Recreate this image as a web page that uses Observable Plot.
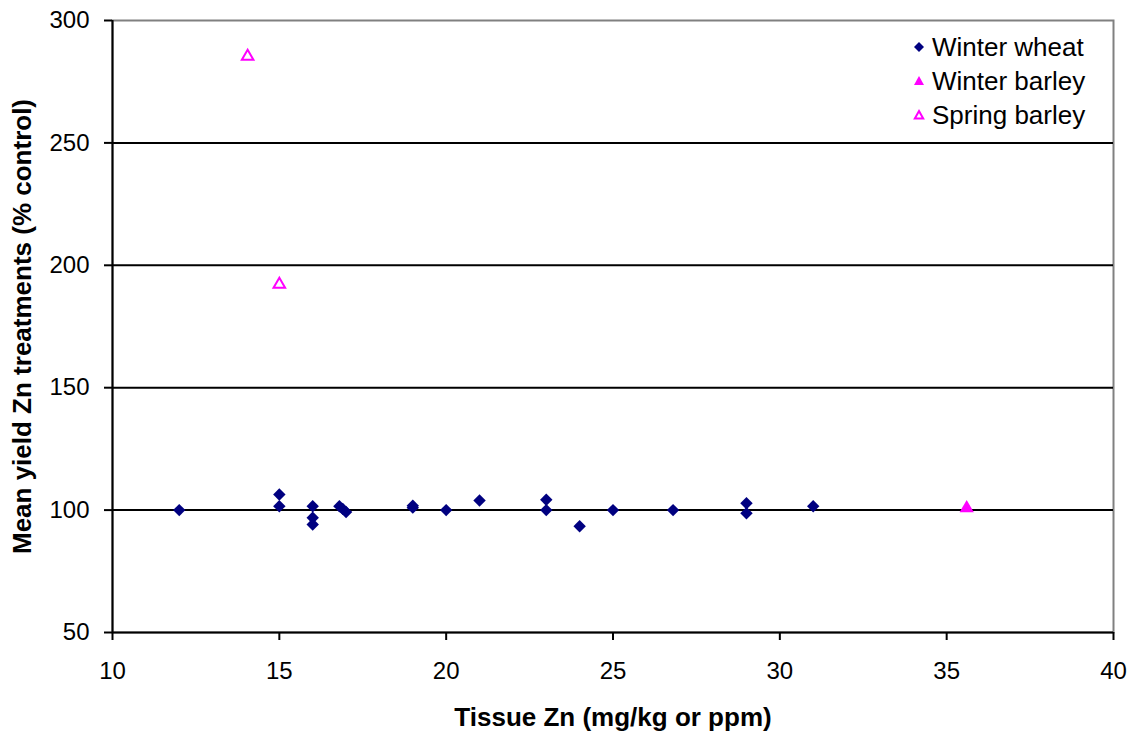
<!DOCTYPE html>
<html>
<head>
<meta charset="utf-8">
<script src="https://cdn.jsdelivr.net/npm/d3@7"></script>
<script src="https://cdn.jsdelivr.net/npm/@observablehq/plot@0.6"></script>
<style>
  html, body { margin: 0; padding: 0; background: #fff; }
  #wrap { position: relative; width: 1133px; height: 732px; font-family: "Liberation Sans", Arial, sans-serif; }
  #legend { position: absolute; left: 910px; top: 30px; font-size: 26px; color: #000; }
  #legend .row { display: flex; align-items: center; height: 34px; }
  #legend svg { width: 18px; height: 18px; margin-right: 4px; }
</style>
</head>
<body>
<div id="wrap"></div>
<script>
// Data
const wheatX = [12, 15, 15, 16, 16, 16, 16.8, 16.9, 17, 19, 19, 20, 21, 23, 23, 24, 25, 26.8, 29, 29, 31];
const wheatY = [100, 106.4, 101.6, 101.6, 96.9, 94.1, 101.6, 100.5, 99.2, 101.8, 101, 100, 103.9, 104.2, 100, 93.4, 100, 100, 102.8, 98.7, 101.6];
const winterBarleyX = [35.6];
const winterBarleyY = [100.8];
const springBarleyX = [14.05, 15.0];
const springBarleyY = [285.3, 192.2];
const seriesNames = ["Winter wheat", "Winter barley", "Spring barley"];
const xTicks = [10, 15, 20, 25, 30, 35, 40];
const yTicks = [50, 100, 150, 200, 250, 300];
const xTitle = "Tissue Zn (mg/kg or ppm)";
const yTitle = "Mean yield Zn treatments (% control)";

const wheat = wheatX.map((x, i) => ({x, y: wheatY[i]}));
const winterBarley = winterBarleyX.map((x, i) => ({x, y: winterBarleyY[i]}));
const springBarley = springBarleyX.map((x, i) => ({x, y: springBarleyY[i]}));

const navy = "#000080";
const magenta = "#FF00FF";

const chart = Plot.plot({
  width: 1133,
  height: 732,
  marginLeft: 112,
  marginRight: 20,
  marginTop: 20,
  marginBottom: 100,
  style: {fontFamily: "Liberation Sans, Arial, sans-serif", fontSize: "24px", color: "#000", background: "#fff"},
  x: {domain: [10, 40]},
  y: {domain: [50, 300]},
  marks: [
    Plot.frame({stroke: "#808080", strokeWidth: 2}),
    Plot.ruleY(yTicks.filter(d => d !== 300), {stroke: "#000", strokeWidth: 2}),
    Plot.ruleX([10], {stroke: "#000", strokeWidth: 2}),
    Plot.axisX({ticks: xTicks, tickSize: 8, tickPadding: 21, strokeWidth: 2, label: null, fontSize: 24}),
    Plot.axisY({ticks: yTicks, tickSize: 8, tickPadding: 15, strokeWidth: 2, label: null, fontSize: 24}),
    Plot.text([xTitle], {frameAnchor: "bottom", dy: 93, fontWeight: "bold", fontSize: 26, textAnchor: "middle"}),
    Plot.text([yTitle], {frameAnchor: "left", rotate: -90, dx: -90, fontWeight: "bold", fontSize: 26, textAnchor: "middle"}),
    Plot.dot(wheat, {x: "x", y: "y", symbol: "diamond2", r: 5.6, fill: navy, stroke: "none"}),
    Plot.dot(winterBarley, {x: "x", y: "y", symbol: "triangle", r: 5.3, fill: magenta, stroke: "none"}),
    Plot.dot(springBarley, {x: "x", y: "y", symbol: "triangle", r: 4.3, fill: "none", stroke: magenta, strokeWidth: 2})
  ]
});

const wrap = document.getElementById("wrap");
wrap.appendChild(chart);

// Legend
const legend = document.createElement("div");
legend.id = "legend";
const sym = [
  `<svg viewBox="-9 -9 18 18"><path d="M0,-5L5,0L0,5L-5,0Z" fill="${navy}"/></svg>`,
  `<svg viewBox="-9 -9 18 18"><path d="M0,-5L5,4L-5,4Z" fill="${magenta}"/></svg>`,
  `<svg viewBox="-9 -9 18 18"><path d="M0,-4L4.2,3.5L-4.2,3.5Z" fill="none" stroke="${magenta}" stroke-width="2"/></svg>`
];
seriesNames.forEach((name, i) => {
  const row = document.createElement("div");
  row.className = "row";
  row.innerHTML = sym[i] + `<span>${name}</span>`;
  legend.appendChild(row);
});
wrap.appendChild(legend);
</script>
</body>
</html>
